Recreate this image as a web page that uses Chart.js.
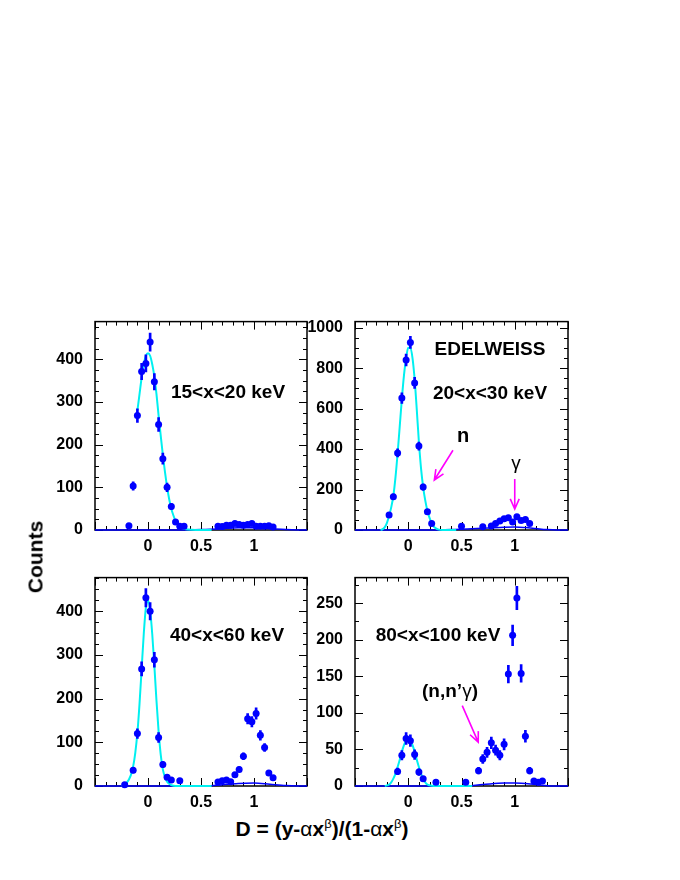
<!DOCTYPE html>
<html><head><meta charset="utf-8">
<script src="https://cdn.jsdelivr.net/npm/chart.js@4.4.1/dist/chart.umd.min.js"></script>
<style>
html,body{margin:0;padding:0;background:#fff;}
body{width:680px;height:880px;position:relative;overflow:hidden;font-family:'Liberation Sans',Arial,Helvetica,sans-serif;}
canvas{position:absolute;}
.lbl{position:absolute;transform:translate(-50%,-50%);font-weight:bold;white-space:nowrap;color:#000;line-height:1;}
.nw{font-weight:normal;}
sup{font-weight:normal;font-size:13px;vertical-align:0.6em;line-height:0;}
</style></head><body>
<canvas id="c1" width="275" height="256" style="left:40px;top:300px;width:275px;height:256px"></canvas>
<canvas id="c2" width="280" height="256" style="left:300px;top:300px;width:280px;height:256px"></canvas>
<canvas id="c3" width="275" height="256" style="left:40px;top:556px;width:275px;height:256px"></canvas>
<canvas id="c4" width="280" height="256" style="left:300px;top:556px;width:280px;height:256px"></canvas>

<div class="lbl" style="left:35px;top:557px;font-size:21px;transform:translate(-50%,-50%) rotate(-90deg)">Counts</div>
<div class="lbl" style="left:322px;top:828px;font-size:21px">D = (y-<span class="nw">α</span>x<sup>β</sup>)/(1-<span class="nw">α</span>x<sup>β</sup>)</div>
<div class="lbl" style="left:228px;top:391px;font-size:19px">15&lt;x&lt;20 keV</div>
<div class="lbl" style="left:490px;top:348px;font-size:19px">EDELWEISS</div>
<div class="lbl" style="left:490px;top:392px;font-size:19px">20&lt;x&lt;30 keV</div>
<div class="lbl" style="left:463px;top:435px;font-size:20px">n</div>
<div class="lbl nw" style="left:516px;top:462px;font-size:19px">γ</div>
<div class="lbl" style="left:227px;top:634px;font-size:19px">40&lt;x&lt;60 keV</div>
<div class="lbl" style="left:438px;top:634px;font-size:19px">80&lt;x&lt;100 keV</div>
<div class="lbl" style="left:450px;top:690px;font-size:19px">(n,n’<span class="nw">γ</span>)</div>

<script>
// ---------------- DATA ----------------
// Panel 1 : 15<x<20 keV
const p1X   = [-0.18,-0.14,-0.10,-0.06,-0.02,0.02,0.06,0.10,0.14,0.18,0.22,0.26,0.30,0.34,0.66,0.70,0.74,0.78,0.82,0.86,0.90,0.94,0.98,1.02,1.06,1.10,1.14,1.18];
const p1Y   = [10,103,268,371,390,440,347,247,167,100,55,19,9,9,9,8,11,11,15,13,11,13,15,9,9,9,10,7];
const p1Err = [3,10,16,19,20,21,19,16,13,10,7,4,3,3,3,3,3,3,4,4,3,4,4,3,3,3,3,3];
const p1FitX = [-0.10,-0.08,-0.06,-0.04,-0.02,0.00,0.02,0.04,0.06,0.08,0.10,0.12,0.14,0.16,0.18,0.20,0.22,0.24,0.26,0.28,0.30,0.32,0.34,0.38,0.45,0.60];
const p1FitY = [280,318,357,388,408,414,408,388,359,318,268,221,176,136,101,72,50,34,21,14,8,5,3,1,0,0];
const p1BkgX = [-0.5,0.30,0.50,0.70,0.85,1.00,1.15,1.30,1.50];
const p1BkgY = [0,0,1,3,5,5,3,1,0];
const p1YTicks = [0,100,200,300,400];

// Panel 2 : 20<x<30 keV
const p2X   = [-0.18,-0.14,-0.10,-0.06,-0.02,0.02,0.06,0.10,0.14,0.18,0.22,0.50,0.70,0.78,0.82,0.86,0.90,0.94,0.98,1.02,1.06,1.10,1.14];
const p2Y   = [74,164,381,652,840,927,727,415,212,90,32,19,16,20,32,44,55,60,40,66,47,52,32];
const p2Err = [9,13,20,26,29,30,27,20,15,9,6,4,4,4,6,7,7,8,6,8,7,7,6];
const p2FitX = [-0.26,-0.24,-0.22,-0.20,-0.18,-0.16,-0.14,-0.12,-0.10,-0.08,-0.06,-0.04,-0.02,0.00,0.02,0.04,0.06,0.08,0.10,0.12,0.14,0.16,0.18,0.20,0.22,0.24,0.26,0.28,0.32,0.45];
const p2FitY = [0,4,14,35,70,112,168,260,378,512,648,765,850,900,902,850,745,595,435,305,212,145,95,60,34,17,8,3,0,0];
const p2BkgX = [-0.5,0.25,0.40,0.60,0.75,0.90,1.00,1.10,1.20,1.30,1.40,1.50];
const p2BkgY = [0,0,3,6,10,14,15,12,7,2,0,0];
const p2YTicks = [0,200,400,600,800,1000];

// Panel 3 : 40<x<60 keV
const p3X   = [-0.22,-0.14,-0.10,-0.06,-0.02,0.02,0.06,0.10,0.14,0.18,0.22,0.30,0.66,0.70,0.74,0.78,0.82,0.86,0.90,0.94,0.98,1.02,1.06,1.10,1.14,1.18];
const p3Y   = [3,36,120,268,431,400,289,111,49,20,14,12,9,12,14,10,26,38,68,154,147,166,116,88,30,19];
const p3Err = [2,6,11,16,21,20,17,11,7,4,4,3,3,3,4,3,5,6,8,12,12,13,11,9,5,4];
const p3FitX = [-0.25,-0.22,-0.20,-0.18,-0.16,-0.14,-0.12,-0.10,-0.08,-0.06,-0.04,-0.02,0.00,0.02,0.04,0.06,0.08,0.10,0.12,0.14,0.16,0.18,0.20,0.22,0.26,0.40,0.60];
const p3FitY = [0,3,8,15,26,45,76,122,188,268,348,408,425,402,348,275,195,125,72,38,20,10,5,2,0,0,0];
const p3BkgX = [-0.5,0.55,0.70,0.85,1.00,1.15,1.30,1.50];
const p3BkgY = [0,0,3,6,7,4,1,0];
const p3YTicks = [0,100,200,300,400];

// Panel 4 : 80<x<100 keV
const p4X   = [-0.10,-0.06,-0.02,0.02,0.06,0.10,0.14,0.26,0.54,0.66,0.70,0.74,0.78,0.82,0.86,0.90,0.94,0.98,1.02,1.06,1.10,1.14,1.18,1.22,1.26];
const p4Y   = [20,42,65,62,43,19,10,5,5,21,37,46,59,49,42,57,153,206,257,154,68,21,7,5,7];
const p4Err = [4.5,6.5,8,8,6.5,4.5,3,2,2,4.5,6,7,8,7,6.5,7.5,12,14,16,12,8,4.5,2.5,2,2.5];
const p4FitX = [-0.22,-0.18,-0.16,-0.14,-0.12,-0.10,-0.08,-0.06,-0.04,-0.02,0.00,0.02,0.04,0.06,0.08,0.10,0.12,0.14,0.16,0.18,0.20,0.24,0.40,0.60];
const p4FitY = [0,2,5,10,17,26,36,47,56,62,64,62,56,47,36,26,17,10,5,2,1,0,0,0];
const p4BkgX = [-0.5,0.50,0.70,0.90,1.00,1.20,1.35,1.50];
const p4BkgY = [0,0,2,4,4,2,0,0];
const p4YTicks = [0,50,100,150,200,250];

// tick labels on x axes
const xTickVals = [0, 0.5, 1];
const xTickText = ['0', '0.5', '1'];

// ---------------- DRAWING ----------------
Chart.defaults.font.family = "'Liberation Sans', Arial, Helvetica, sans-serif";
Chart.defaults.font.size = 16;
Chart.defaults.font.weight = 'bold';
Chart.defaults.color = '#000';

const framePlugin = {
  id: 'rootFrame',
  beforeDatasetsDraw(chart, args, opts) {
    const {ctx, chartArea: a, scales: {x, y}} = chart;
    ctx.save();
    ctx.strokeStyle = '#000';
    ctx.lineWidth = 1;
    ctx.beginPath();
    const nx = Math.round((x.max - x.min) / opts.xMinor);
    for (let i = 0; i <= nx; i++) {
      const v = x.min + i * opts.xMinor;
      const r = v / opts.xMajor;
      const len = Math.abs(r - Math.round(r)) < 1e-6 ? 8 : 4;
      const p = Math.round(x.getPixelForValue(v)) + 0.5;
      ctx.moveTo(p, a.bottom); ctx.lineTo(p, a.bottom - len);
      ctx.moveTo(p, a.top); ctx.lineTo(p, a.top + len);
    }
    const ny = Math.floor((y.max - y.min) / opts.yMinor + 1e-6);
    for (let i = 0; i <= ny; i++) {
      const v = y.min + i * opts.yMinor;
      const r = v / opts.yMajor;
      const len = Math.abs(r - Math.round(r)) < 1e-6 ? 8 : 4;
      const p = Math.round(y.getPixelForValue(v)) + 0.5;
      ctx.moveTo(a.left, p); ctx.lineTo(a.left + len, p);
      ctx.moveTo(a.right, p); ctx.lineTo(a.right - len, p);
    }
    ctx.stroke();
    ctx.lineWidth = 1.5;
    ctx.strokeRect(a.left, a.top, a.right - a.left, a.bottom - a.top);
    ctx.restore();
  },
  afterDatasetsDraw(chart, args, opts) {
    const {ctx, scales: {x, y}} = chart;
    ctx.save();
    (opts.arrows || []).forEach(ar => {
      const x1 = x.getPixelForValue(ar[0]), y1 = y.getPixelForValue(ar[1]);
      const x2 = x.getPixelForValue(ar[2]), y2 = y.getPixelForValue(ar[3]);
      const ang = Math.atan2(y2 - y1, x2 - x1);
      const hl = 11, ha = 0.42;
      ctx.strokeStyle = '#ff00ff';
      ctx.lineWidth = 1.6;
      ctx.beginPath();
      ctx.moveTo(x1, y1); ctx.lineTo(x2, y2);
      ctx.moveTo(x2 - hl * Math.cos(ang - ha), y2 - hl * Math.sin(ang - ha));
      ctx.lineTo(x2, y2);
      ctx.lineTo(x2 - hl * Math.cos(ang + ha), y2 - hl * Math.sin(ang + ha));
      ctx.stroke();
    });
    ctx.restore();
  }
};

function xy(xs, ys) { return xs.map((v, i) => ({x: v, y: ys[i]})); }

function makePanel(id, c) {
  new Chart(document.getElementById(id), {
    type: 'scatter',
    data: {
      datasets: [
        {type: 'line', data: xy(c.bx, c.by), borderColor: '#0000ff', borderWidth: 1.5, pointRadius: 0, cubicInterpolationMode: 'monotone', fill: false, clip: 3, order: 4},
        {type: 'line', data: xy(c.fx, c.fy), borderColor: '#00f0f0', borderWidth: 2, pointRadius: 0, cubicInterpolationMode: 'monotone', fill: false, clip: 3, order: 3},
        {type: 'bar', data: c.px.map((v, i) => ({x: v, y: [Math.max(0, c.py[i] - c.pe[i]), c.py[i] + c.pe[i]]})), backgroundColor: '#0000ff', barThickness: 2, grouped: false, order: 2},
        {type: 'scatter', data: xy(c.px, c.py), pointRadius: 3.5, pointBackgroundColor: '#0000ff', pointBorderWidth: 0, clip: 5, order: 1}
      ]
    },
    options: {
      responsive: false,
      animation: false,
      events: [],
      layout: {padding: {top: c.padTop, right: c.padRight, left: 0, bottom: 0}},
      plugins: {legend: {display: false}, tooltip: {enabled: false},
        rootFrame: {xMinor: 0.1, xMajor: 0.5, yMinor: c.yMinor, yMajor: c.yMajor, arrows: c.arrows}},
      scales: {
        x: {type: 'linear', min: -0.5, max: 1.5, offset: false,
          grid: {display: false, drawTicks: false}, border: {display: false},
          ticks: {padding: 7, autoSkip: false, maxRotation: 0,
            callback: v => { const k = xTickVals.findIndex(t => Math.abs(t - v) < 1e-9); return k < 0 ? '' : xTickText[k]; }},
          afterBuildTicks: s => { s.ticks = xTickVals.map(v => ({value: v})); },
          afterFit: s => { s.height = c.xH; }},
        y: {type: 'linear', min: 0, max: c.ymax,
          grid: {display: false, drawTicks: false}, border: {display: false},
          ticks: {padding: 12, autoSkip: false, callback: v => String(v)},
          afterBuildTicks: s => { s.ticks = c.yt.map(v => ({value: v})); },
          afterFit: s => { s.width = c.yW; }}
      }
    },
    plugins: [framePlugin]
  });
}

makePanel('c1', {px: p1X, py: p1Y, pe: p1Err, fx: p1FitX, fy: p1FitY, bx: p1BkgX, by: p1BkgY, yt: p1YTicks,
  ymax: 488, yMajor: 100, yMinor: 25, yW: 55, padTop: 13, padRight: 8, xH: 26, arrows: []});
makePanel('c2', {px: p2X, py: p2Y, pe: p2Err, fx: p2FitX, fy: p2FitY, bx: p2BkgX, by: p2BkgY, yt: p2YTicks,
  ymax: 1030, yMajor: 200, yMinor: 50, yW: 55, padTop: 13, padRight: 12, xH: 26,
  arrows: [[0.42, 394, 0.245, 247], [1.0, 252, 1.0, 104]]});
makePanel('c3', {px: p3X, py: p3Y, pe: p3Err, fx: p3FitX, fy: p3FitY, bx: p3BkgX, by: p3BkgY, yt: p3YTicks,
  ymax: 477, yMajor: 100, yMinor: 25, yW: 55, padTop: 12, padRight: 8, xH: 26, arrows: []});
makePanel('c4', {px: p4X, py: p4Y, pe: p4Err, fx: p4FitX, fy: p4FitY, bx: p4BkgX, by: p4BkgY, yt: p4YTicks,
  ymax: 285, yMajor: 50, yMinor: 25, yW: 55, padTop: 12, padRight: 12, xH: 26,
  arrows: [[0.507, 110, 0.657, 60]]});
</script>
</body></html>
